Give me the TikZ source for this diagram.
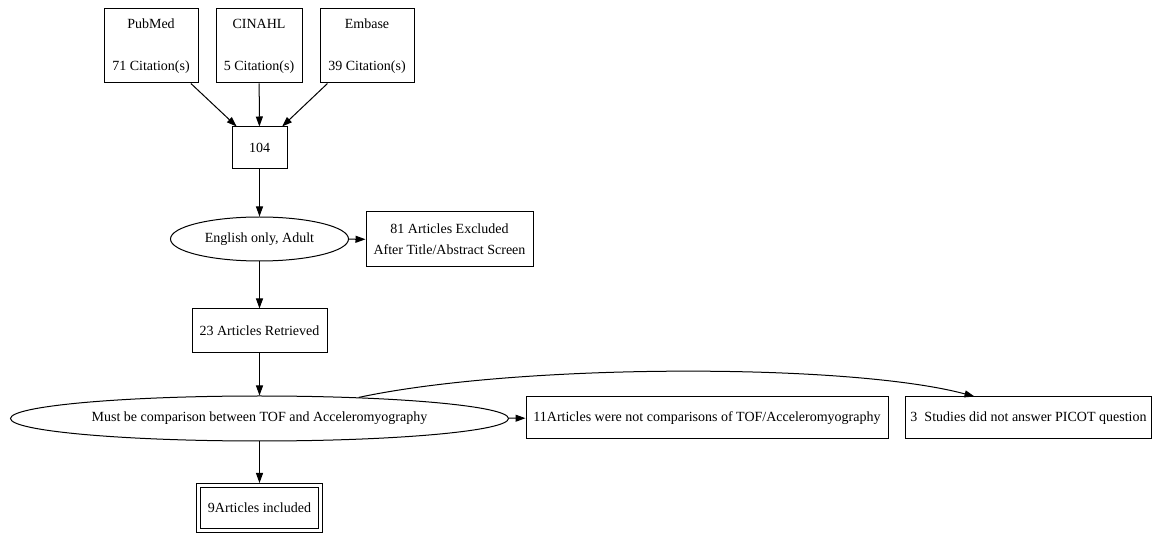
\documentclass[tikz,border=0pt]{standalone}
\usepackage{fontspec}
\setmainfont{Liberation Serif}
\usepackage{tikz}
\usetikzlibrary{arrows.meta}
\usetikzlibrary{shapes.geometric}
\usetikzlibrary{positioning}

\begin{document}
\begin{tikzpicture}
	[x=1pt,y=-1pt,
	every node/.style={font=\fontsize{14}{21}\selectfont,inner sep=0pt,line width=1pt},
	box/.style={draw,rectangle,align=center},
	oval/.style={draw,ellipse},
	pfeil/.style={-{Triangle[length=10pt,width=7pt]},line width=1pt}]
	\useasboundingbox (0,0) rectangle (1152,534);
	\node[box,minimum width=94pt,minimum height=74pt] (pubmed) at (151,46) {PubMed\\[21pt]71 Citation(s)};
	\node[box,minimum width=86pt,minimum height=74pt] (cinahl) at (259,46) {CINAHL\\[21pt]5 Citation(s)};
	\node[box,minimum width=94pt,minimum height=74pt] (embase) at (367,46) {Embase\\[21pt]39 Citation(s)};
	\node[box,minimum width=55pt,minimum height=42pt] (total) at (259.5,148) {104};
	\node[oval,minimum width=178pt,minimum height=44pt] (english) at (259.5,239) {English only, Adult};
	\node[box,minimum width=167pt,minimum height=55pt] (excluded) at (449.5,239.5) {81 Articles Excluded\\After Title/Abstract Screen};
	\node[box,minimum width=135pt,minimum height=44pt] (retrieved) at (259.5,331) {23 Articles Retrieved};
	\node[oval,minimum width=498pt,minimum height=45pt] (must) at (259.5,418.5) {Must be comparison between TOF and Acceleromyography};
	\node[box,minimum width=362pt,minimum height=42pt] (notcomp) at (707,418) {11Articles were not comparisons of TOF/Acceleromyography};
	\node[box,minimum width=246pt,minimum height=42pt] (picot) at (1028.5,418) {3~~Studies did not answer PICOT question};
	\node[box,double,double distance=3pt,minimum width=122pt,minimum height=45pt] (included) at (259.5,508) {9Articles included};

	\draw[pfeil] (pubmed) -- (total);
	\draw[pfeil] (cinahl) -- (total);
	\draw[pfeil] (embase) -- (total);
	\draw[pfeil] (total) -- (english);
	\draw[pfeil] (english) -- (excluded);
	\draw[pfeil] (english) -- (retrieved);
	\draw[pfeil] (retrieved) -- (must);
	\draw[pfeil] (must) -- (notcomp);
	\draw[pfeil,shorten >=2pt] (must) -- (included);
	\draw[pfeil] (must.12) .. controls (520,363) and (850,363) .. ([xshift=-54pt]picot.north);
\end{tikzpicture}
\end{document}
